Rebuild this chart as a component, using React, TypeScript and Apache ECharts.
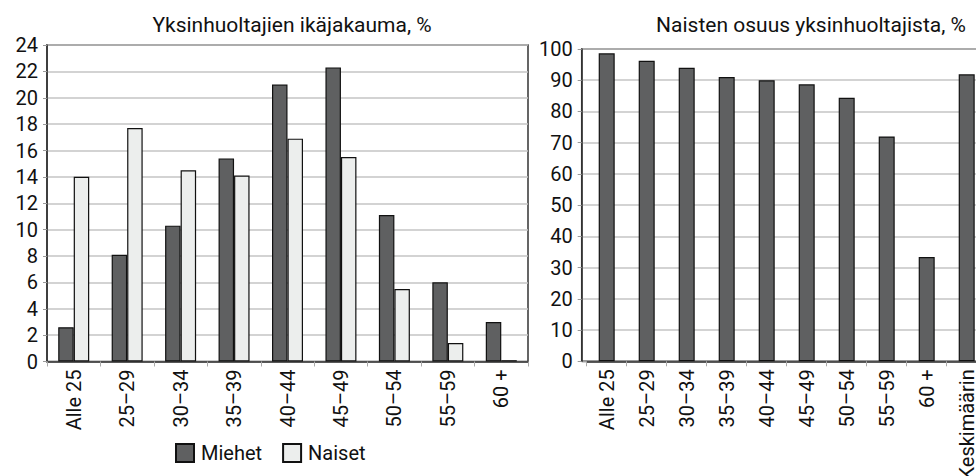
import React, { useEffect, useRef } from "react";
import * as echarts from "echarts";

const ageGroups = ["Alle 25", "25–29", "30–34", "35–39", "40–44", "45–49", "50–54", "55–59", "60 +"];
const miehet = [2.6, 8.1, 10.3, 15.4, 21.0, 22.3, 11.1, 6.0, 3.0];
const naiset = [14.0, 17.7, 14.5, 14.1, 16.9, 15.5, 5.5, 1.4, 0.1];

const shareCategories = ["Alle 25", "25–29", "30–34", "35–39", "40–44", "45–49", "50–54", "55–59", "60 +", "Keskimäärin"];
const naistenOsuus = [98.6, 96.2, 94.0, 91.0, 90.0, 88.7, 84.4, 72.0, 33.4, 91.9];

const leftTitle = "Yksinhuoltajien ikäjakauma, %";
const rightTitle = "Naisten osuus yksinhuoltajista, %";

const FONT = "Roboto";
const TXT = "#111";
const DARK = "#5f6061";
const LIGHT = "#eceeed";

export default function App() {
  const ref = useRef<HTMLDivElement>(null);
  useEffect(() => {
    const chart = echarts.init(ref.current!, undefined, { renderer: "svg" });
    const yAxisCommon = {
      type: "value" as const,
      axisLine: { show: true, lineStyle: { color: "#333", width: 1.5 } },
      axisTick: { show: true, length: 4, lineStyle: { color: "#999" } },
      splitLine: { show: true, lineStyle: { color: "#c4c4c4", width: 1.5 } },
      axisLabel: { color: TXT, fontFamily: FONT, fontSize: 20, margin: 9 },
    };
    const xAxisCommon = {
      type: "category" as const,
      axisLine: { show: true, lineStyle: { color: "#333", width: 1.5 } },
      axisTick: { show: true, length: 5, lineStyle: { color: "#aaa" } },
      axisLabel: { color: TXT, fontFamily: FONT, fontSize: 20, rotate: 90, margin: 8, interval: 0 },
    };
    const barStyle = (c: string) => ({ color: c, borderColor: "#111", borderWidth: 1.2 });
    chart.setOption({
      animation: false,
      textStyle: { fontFamily: FONT },
      title: [
        { text: leftTitle, left: 287, top: 9, textAlign: "center", textStyle: { fontFamily: FONT, fontSize: 21, fontWeight: "normal", color: TXT } },
        { text: rightTitle, left: 806, top: 9, textAlign: "center", textStyle: { fontFamily: FONT, fontSize: 21, fontWeight: "normal", color: TXT } },
      ],
      legend: {
        data: ["Miehet", "Naiset"],
        left: 175,
        top: 443,
        padding: 0,
        itemWidth: 18,
        itemHeight: 18,
        itemGap: 20,
        icon: "rect",
        textStyle: { fontFamily: FONT, fontSize: 20, color: TXT, padding: [0, 0, 0, 2] },
      },
      grid: [
        { left: 47, right: 448, top: 45, bottom: 114.5, outerBoundsMode: "none", show: true, borderColor: "#333", borderWidth: 1.5, backgroundColor: "transparent" },
        { left: 581.7, right: -10.7, top: 49, bottom: 114.7, outerBoundsMode: "none", show: true, borderColor: "#333", borderWidth: 1.5, backgroundColor: "transparent" },
        { left: 586.7, right: -10.7, top: 49, bottom: 114.7, outerBoundsMode: "none", show: false },
      ],
      xAxis: [
        { ...xAxisCommon, gridIndex: 0, data: ageGroups },
        { type: "value", gridIndex: 1, min: 0, max: 1, show: false },
        { ...xAxisCommon, gridIndex: 2, data: shareCategories },
      ],
      yAxis: [
        { ...yAxisCommon, gridIndex: 0, min: 0, max: 24, interval: 2 },
        { ...yAxisCommon, gridIndex: 1, min: 0, max: 100, interval: 10 },
        { type: "value", gridIndex: 2, min: 0, max: 100, interval: 10, show: false, splitLine: { show: false } },
      ],
      series: [
        { name: "Miehet", type: "bar", xAxisIndex: 0, yAxisIndex: 0, data: miehet, barGap: "0%", barCategoryGap: "42%", itemStyle: barStyle(DARK) },
        { name: "Naiset", type: "bar", xAxisIndex: 0, yAxisIndex: 0, data: naiset, barGap: "0%", barCategoryGap: "42%", itemStyle: barStyle(LIGHT) },
        { name: "Naisten osuus", type: "bar", xAxisIndex: 2, yAxisIndex: 2, data: naistenOsuus, barCategoryGap: "60%", itemStyle: barStyle(DARK) },
      ],
    });
    return () => chart.dispose();
  }, []);
  return (
    <div
      ref={ref}
      style={{ position: "fixed", left: 0, top: 0, width: 976, height: 476, background: "#fff" }}
    />
  );
}
